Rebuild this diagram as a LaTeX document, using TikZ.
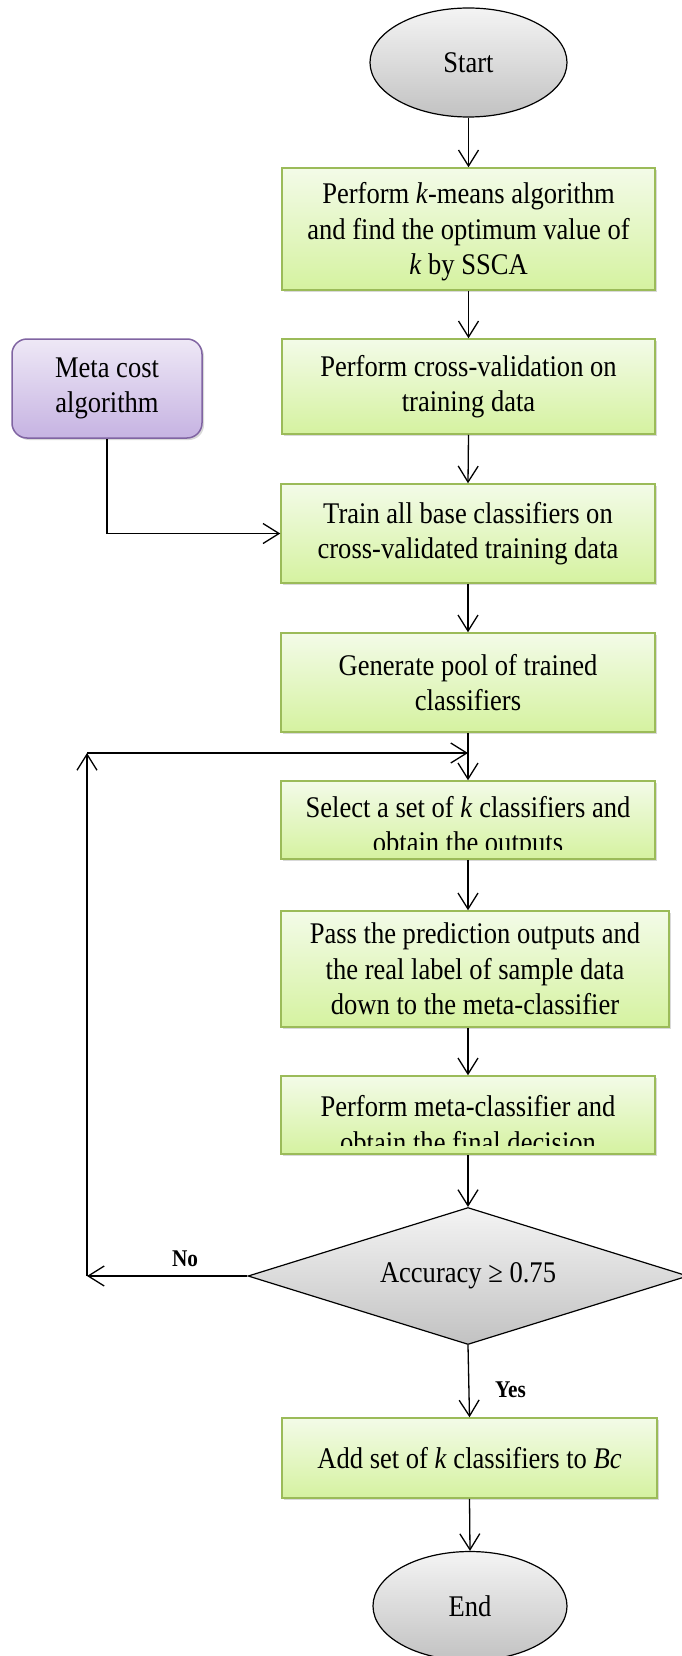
\documentclass[tikz,border=0pt]{standalone}
\usepackage{fontspec}
\setmainfont{Liberation Serif}[FakeStretch=0.885]
\usetikzlibrary{arrows.meta,shapes.geometric,shadows}

\definecolor{procborder}{HTML}{9BBB59}
\definecolor{proctop}{HTML}{F3FBE8}
\definecolor{procbot}{HTML}{D5F2A0}
\definecolor{metaborder}{HTML}{8064A2}
\definecolor{metatop}{HTML}{EEE8F6}
\definecolor{metabot}{HTML}{C6B3E2}
\definecolor{termtop}{HTML}{F4F4F4}
\definecolor{termbot}{HTML}{C2C2C2}

\begin{document}
\begin{tikzpicture}[x=1pt,y=-1pt,
  txt/.style={font=\fontsize{30pt}{35.5pt}\selectfont, align=center, inner sep=0pt},
  softshadow/.style={drop shadow={shadow xshift=2pt, shadow yshift=-2pt, opacity=0.25, fill=black!60}},
  proc/.style={rectangle, draw=procborder, line width=1.5pt, top color=proctop, bottom color=procbot, txt, softshadow},
  metabox/.style={rectangle, rounded corners=15pt, draw=metaborder, line width=1.5pt, top color=metatop, bottom color=metabot, txt, softshadow},
  term/.style={ellipse, draw=black, line width=1.2pt, top color=termtop, bottom color=termbot, txt},
  decision/.style={diamond, aspect=3.2, draw=black, line width=1.2pt, top color=termtop, bottom color=termbot, txt},
  lbl/.style={font=\fontsize{24pt}{28pt}\selectfont\bfseries, inner sep=0pt},
  arr/.style={draw=black, line width=1.3pt, -{Straight Barb[length=16pt,width=20pt]}}
]
\useasboundingbox (0,0) rectangle (682,1656);

% terminals
\node[term, minimum width=197pt, minimum height=109pt] (start) at (468.5,62.5) {Start};
\node[term, minimum width=194pt, minimum height=109pt] (stop) at (470,1606) {End};

% process steps
\node[proc, minimum width=373pt, minimum height=122pt] (b1) at (468.5,229) {};
\node[txt, yshift=-3pt] (t1) at (b1)
  {Perform \textit{k}-means algorithm\\and find the optimum value of\\\textit{k} by SSCA};
\node[proc, minimum width=373pt, minimum height=95pt] (b2) at (468.5,386.5)
  {Perform cross-validation on\\training data};
\node[proc, minimum width=374pt, minimum height=99pt] (b3) at (468,533.5)
  {Train all base classifiers on\\cross-validated training data};
\node[proc, minimum width=374pt, minimum height=99pt] (b4) at (468,682.5)
  {Generate pool of trained\\classifiers};
\node[proc, minimum width=374pt, minimum height=78pt] (b5) at (468,820) {};
\node[proc, minimum width=388pt, minimum height=116pt] (b6) at (475,969)
  {Pass the prediction outputs and\\the real label of sample data\\down to the meta-classifier};
\node[proc, minimum width=374pt, minimum height=78pt] (b7) at (468,1115) {};
\node[proc, minimum width=375pt, minimum height=80pt] (b8) at (469.5,1458)
  {Add set of \textit{k} classifiers to \textit{Bc}};

% texts that run past the lower edge of their boxes
\begin{scope}
  \clip (b5.north west) rectangle ([yshift=10pt]b5.south east);
  \node[txt, yshift=-7.5pt] (t5) at (b5) {Select a set of \textit{k} classifiers and\\obtain the outputs};
\end{scope}
\begin{scope}
  \clip (b7.north west) rectangle ([yshift=9pt]b7.south east);
  \node[txt, yshift=-9pt] (t7) at (b7) {Perform meta-classifier and\\obtain the final decision};
\end{scope}

% side input
\node[metabox, minimum width=190pt, minimum height=99pt] (meta) at (107,388.5)
  {Meta cost\\algorithm};

% decision
\node[decision, minimum width=440pt, minimum height=137pt] (dec) at (468,1276)
  {Accuracy ≥ 0.75};

% main flow
\draw[arr] (start.south) -- (b1.north);
\draw[arr] (b1.south) -- (b2.north);
\draw[arr] (b2.south) -- (b3.north);
\draw[arr] (b3.south) -- (b4.north);
\draw[arr] (b4.south) -- (b5.north);
\draw[arr] (b5.south) -- (b5.south |- b6.north);
\draw[arr] (b6.south -| b7.north) -- (b7.north);
\draw[arr] (b7.south) -- (dec.north);
\draw[arr] (dec.south) -- (b8.north);
\draw[arr] (b8.south) -- (stop.north);
\draw[arr] (meta.south) |- (b3.west);

% loop back for another selection
\coordinate (loopbot) at (87,1276);
\coordinate (looptop) at (87,753);
\coordinate (loopjoin) at (b4.south |- looptop);
\draw[arr] (dec.west) -- (loopbot);
\draw[arr] (loopbot) -- (looptop);
\draw[arr] (looptop) -- (loopjoin);

% branch labels
\node[lbl, anchor=base] (no) at (185,1266) {No};
\node[lbl, anchor=base west] (yes) at (495,1397) {Yes};
\end{tikzpicture}
\end{document}
